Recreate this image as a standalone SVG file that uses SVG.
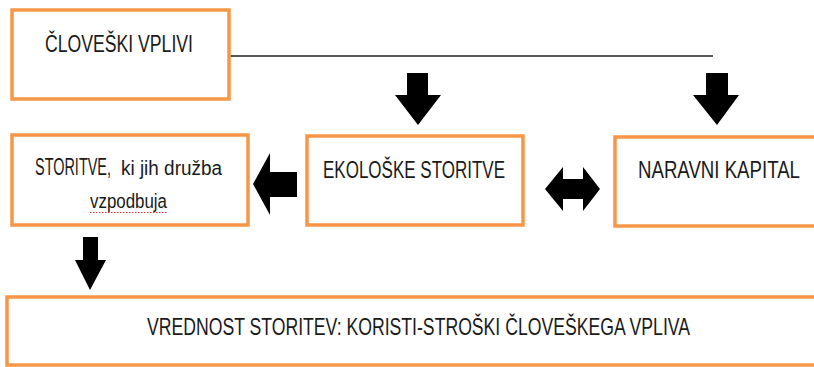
<svg xmlns="http://www.w3.org/2000/svg" width="814" height="367" viewBox="0 0 814 367">
<style>
.box{fill:#fff;stroke:#F79646;stroke-width:3.5}
.t{font-family:"Liberation Sans",Arial,sans-serif;fill:#1a1a1a;font-size:17px}
.s{font-size:14.2px}
.arr{fill:#000}
</style>
<rect width="814" height="367" fill="#fff"/>
<g id="connectors">
<line x1="229" y1="56" x2="713" y2="56" stroke="#222" stroke-width="1.5"/>
<polygon class="arr" points="407,73 428,73 428,95 441,95 418,125 395,95 407,95"/>
<polygon class="arr" points="706,73 728,73 728,95 739,95 717,125 693,95 706,95"/>
<polygon class="arr" points="297,172 297,197 270,197 270,215 253,184 270,153 270,172"/>
<polygon class="arr" points="545,189 563,167 563,179 583,179 583,167 600,189 583,211 583,199 563,199 563,211"/>
<polygon class="arr" points="83,237 98,237 98,260 106,260 90,290 75,260 83,260"/>
</g>
<g id="cloveski-vplivi">
<rect class="box" x="12" y="10" width="217" height="89"/>
<text class="t" transform="translate(45,52) scale(1,1.38)" textLength="148" lengthAdjust="spacingAndGlyphs">ČLOVEŠKI VPLIVI</text>
</g>
<g id="storitve-druzba">
<rect class="box" x="12" y="135" width="236" height="90"/>
<text class="t" transform="translate(35,175) scale(1,1.38)"><tspan x="0" textLength="76" lengthAdjust="spacingAndGlyphs">STORITVE,</tspan><tspan class="s" x="86" textLength="101" lengthAdjust="spacingAndGlyphs">ki jih družba</tspan></text>
<text class="t s" transform="translate(90,208) scale(1,1.38)" textLength="77" lengthAdjust="spacingAndGlyphs">vzpodbuja</text>
<line x1="90" y1="212.5" x2="167" y2="212.5" stroke="#e03030" stroke-width="1.2" stroke-dasharray="1.5,1.5"/>
</g>
<g id="ekoloske-storitve">
<rect class="box" x="307" y="136" width="216" height="89"/>
<text class="t" transform="translate(323,178) scale(1,1.38)" textLength="182" lengthAdjust="spacingAndGlyphs">EKOLOŠKE STORITVE</text>
</g>
<g id="naravni-kapital">
<rect class="box" x="615" y="137" width="215" height="89"/>
<text class="t" transform="translate(638,178) scale(1,1.38)" textLength="162" lengthAdjust="spacingAndGlyphs">NARAVNI KAPITAL</text>
</g>
<g id="vrednost-storitev">
<rect class="box" x="7" y="297" width="830" height="68"/>
<text class="t" transform="translate(147,335) scale(1,1.38)" textLength="543" lengthAdjust="spacingAndGlyphs">VREDNOST STORITEV: KORISTI-STROŠKI ČLOVEŠKEGA VPLIVA</text>
</g>
</svg>
